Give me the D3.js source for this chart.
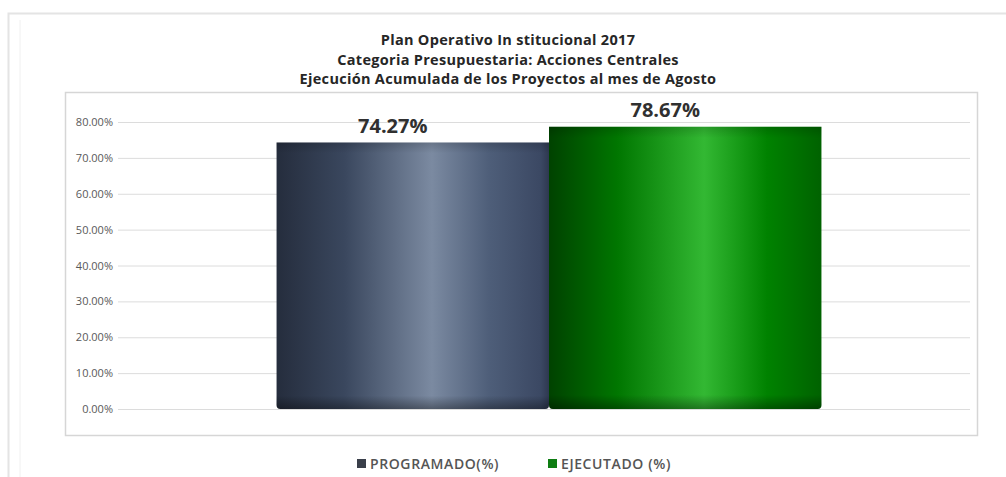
<!DOCTYPE html>
<html><head><meta charset="utf-8">
<script src="https://cdn.jsdelivr.net/npm/d3@7"></script>
<style>body{margin:0;background:#fff}svg{display:block}</style>
</head><body>
<svg id="c" width="1006" height="477"></svg>
<script>
const titleLines = ["Plan Operativo In stitucional 2017","Categoria Presupuestaria: Acciones Centrales","Ejecución Acumulada de los Proyectos al mes de Agosto"];
const categories = ["Acciones Centrales"];
const seriesNames = ["PROGRAMADO(%)","EJECUTADO (%)"];
const seriesValues = [74.27, 78.67];
const seriesLabels = ["74.27%","78.67%"];
const yTicks = [0,10,20,30,40,50,60,70,80];
const yTickLabels = ["0.00%","10.00%","20.00%","30.00%","40.00%","50.00%","60.00%","70.00%","80.00%"];

const svg = d3.select("#c");
const font = "'Open Sans', 'Noto Sans', sans-serif";
const defs = svg.append("defs");
const g1 = defs.append("linearGradient").attr("id","gProg");
[[0,"#252d3d"],[0.25,"#3a475e"],[0.57,"#7b8aa1"],[0.78,"#4e5e79"],[0.97,"#3b4863"],[1,"#2e3850"]].forEach(s=>g1.append("stop").attr("offset",s[0]).attr("stop-color",s[1]));
const g2 = defs.append("linearGradient").attr("id","gEje");
[[0,"#004200"],[0.25,"#007600"],[0.57,"#33b833"],[0.8,"#008200"],[1,"#006200"]].forEach(s=>g2.append("stop").attr("offset",s[0]).attr("stop-color",s[1]));
const gv = defs.append("linearGradient").attr("id","gShade").attr("x1",0).attr("x2",0).attr("y1",0).attr("y2",1);
[[0,"#000",0.15],[0.04,"#000",0],[0.95,"#000",0],[1,"#000",0.35]].forEach(s=>gv.append("stop").attr("offset",s[0]).attr("stop-color",s[1]).attr("stop-opacity",s[2]));

// outer chart border
svg.append("path").attr("d","M8.5,477 V13.5 H1006").attr("fill","none").attr("stroke","#e4e4e4").attr("stroke-width",2);
svg.append("line").attr("x1",20).attr("x2",20).attr("y1",20).attr("y2",477).attr("stroke","#f0f0f0");

// titles
svg.append("g").selectAll("text").data(titleLines).join("text")
  .attr("x",508).attr("y",(d,i)=>45+i*19.5).attr("text-anchor","middle")
  .attr("font-family",font).attr("font-weight","bold").attr("font-size",14.5).attr("letter-spacing",0.3).attr("fill","#262626")
  .text(d=>d);

// plot frame
svg.append("rect").attr("x",65.5).attr("y",92.5).attr("width",912).attr("height",343)
  .attr("fill","none").attr("stroke","#d6d6d6").attr("stroke-width",1.5);

const x0 = d3.scaleBand().domain(categories).range([118,980]).paddingInner(0).paddingOuter(0.291);
const x1 = d3.scaleBand().domain(seriesNames).range([0,x0.bandwidth()]);
const y = d3.scaleLinear().domain([0,80]).range([409,122]);

const yAxis = d3.axisLeft(y).tickValues(yTicks).tickFormat((d,i)=>yTickLabels[i]).tickSize(0).tickPadding(5);
const ya = svg.append("g").attr("transform","translate(118,0)").call(yAxis);
ya.select(".domain").remove();
ya.selectAll("text").attr("font-family",font).attr("font-size",11).attr("fill","#595959");

svg.append("g").selectAll("line").data(yTicks).join("line")
  .attr("x1",118).attr("x2",970).attr("y1",d=>y(d)+0.5).attr("y2",d=>y(d)+0.5)
  .attr("stroke","#dcdcdc").attr("stroke-width",1);

const grads = ["url(#gProg)","url(#gEje)"];
const bars = svg.append("g");
seriesNames.forEach((s,i)=>{
  const bx = x0(categories[0]) + x1(s);
  const bw = x1.bandwidth();
  const top = y(seriesValues[i]), bot = y(0);
  const r = 4;
  const d = `M${bx},${top} H${bx+bw} V${bot-r} Q${bx+bw},${bot} ${bx+bw-r},${bot} H${bx+r} Q${bx},${bot} ${bx},${bot-r} Z`;
  bars.append("path").attr("d",d).attr("fill",grads[i]);
  bars.append("path").attr("d",d).attr("fill","url(#gShade)");
  svg.append("text").attr("x",bx+bw/2-20).attr("y",top-10).attr("text-anchor","middle")
    .attr("font-family",font).attr("font-weight","bold").attr("font-size",20).attr("fill","#303030")
    .text(seriesLabels[i]);
});

// legend
const legColors = ["#3a3f4a","#0e7d12"];
const legX = [357, 548];
seriesNames.forEach((s,i)=>{
  svg.append("rect").attr("x",legX[i]).attr("y",459).attr("width",9).attr("height",9).attr("fill",legColors[i]);
  svg.append("text").attr("x",legX[i]+13).attr("y",468.5).attr("font-family",font).attr("font-weight","600")
    .attr("font-size",14).attr("letter-spacing",0.6).attr("fill","#555").text(s);
});
</script>
</body></html>
